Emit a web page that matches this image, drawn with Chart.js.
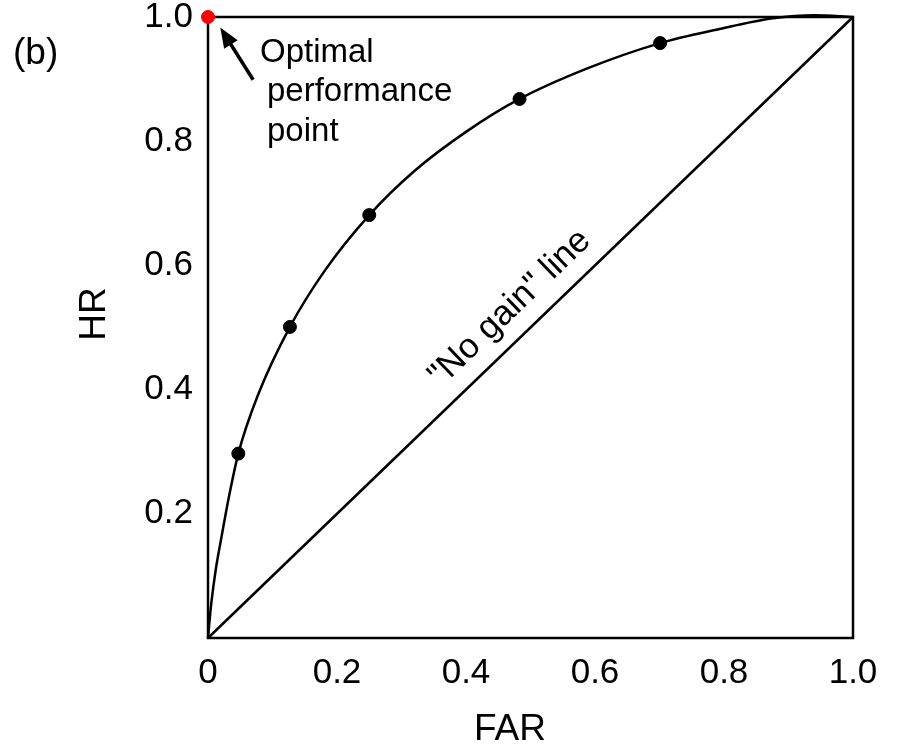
<!DOCTYPE html>
<html>
<head>
<meta charset="utf-8">
<style>
  html, body { margin: 0; padding: 0; background: #fff; }
</style>
</head>
<body>
<canvas id="rocChart" width="901" height="744"></canvas>
<script src="https://cdn.jsdelivr.net/npm/chart.js@4.4.1/dist/chart.umd.min.js"></script>
<script>
  // ROC curve (FAR on x, HR on y)
  const curveFAR = [0, 0.005, 0.012, 0.021, 0.032, 0.047, 0.077, 0.127, 0.18, 0.25, 0.32, 0.40, 0.483, 0.59, 0.701, 0.79, 0.876, 0.94, 1.0];
  const curveHR  = [0, 0.055, 0.110, 0.163, 0.225, 0.297, 0.390, 0.501, 0.59, 0.681, 0.752, 0.815, 0.868, 0.918, 0.958, 0.980, 0.998, 1.003, 1.0];
  // the black dots on the curve
  const dotFAR = [0.047, 0.127, 0.250, 0.483, 0.701];
  const dotHR  = [0.297, 0.501, 0.681, 0.868, 0.958];
  // "no gain" diagonal
  const noGainFAR = [0, 1];
  const noGainHR  = [0, 1];
  // optimal performance point (red)
  const optimalFAR = [0];
  const optimalHR  = [1];

  const xTickLabels = ['0', '0.2', '0.4', '0.6', '0.8', '1.0'];
  const yTickLabels = ['', '0.2', '0.4', '0.6', '0.8', '1.0'];

  const FONT = "'Liberation Sans', Arial, sans-serif";

  function pairs(xs, ys) {
    return xs.map((v, i) => ({ x: v, y: ys[i] }));
  }

  // frame, arrow, labels
  const extras = {
    id: 'extras',
    beforeDatasetsDraw(chart) {
      const { ctx, chartArea: a } = chart;
      ctx.save();
      ctx.strokeStyle = '#000';
      ctx.lineWidth = 2.5;
      ctx.strokeRect(a.left, a.top, a.right - a.left, a.bottom - a.top);
      ctx.restore();
    },
    afterDraw(chart) {
      const { ctx, scales: { x, y } } = chart;
      ctx.save();
      ctx.fillStyle = '#000';
      ctx.strokeStyle = '#000';
      ctx.textBaseline = 'alphabetic';

      // panel tag
      ctx.font = '37px ' + FONT;
      ctx.textAlign = 'left';
      ctx.fillText('(b)', 13, 64);

      // axis titles
      ctx.font = '37px ' + FONT;
      ctx.textAlign = 'center';
      ctx.fillText('FAR', 510, 740);
      ctx.save();
      ctx.translate(105, 314);
      ctx.rotate(-Math.PI / 2);
      ctx.fillText('HR', 0, 0);
      ctx.restore();

      // arrow to the optimal point
      const tx = x.getPixelForValue(0.019), ty = y.getPixelForValue(0.983);
      const sx = x.getPixelForValue(0.070), sy = y.getPixelForValue(0.899);
      const ang = Math.atan2(ty - sy, tx - sx);
      ctx.lineWidth = 3.5;
      ctx.beginPath();
      ctx.moveTo(sx, sy);
      ctx.lineTo(tx - 12 * Math.cos(ang), ty - 12 * Math.sin(ang));
      ctx.stroke();
      ctx.beginPath();
      ctx.moveTo(tx, ty);
      ctx.lineTo(tx - 20 * Math.cos(ang) + 8 * Math.sin(ang), ty - 20 * Math.sin(ang) - 8 * Math.cos(ang));
      ctx.lineTo(tx - 20 * Math.cos(ang) - 8 * Math.sin(ang), ty - 20 * Math.sin(ang) + 8 * Math.cos(ang));
      ctx.closePath();
      ctx.fill();

      ctx.font = '33px ' + FONT;
      ctx.textAlign = 'left';
      ctx.fillText('Optimal', 260, 62);
      ctx.fillText('performance', 267, 101);
      ctx.fillText('point', 267, 141);

      // label along the diagonal
      const p0x = x.getPixelForValue(0), p0y = y.getPixelForValue(0);
      const p1x = x.getPixelForValue(1), p1y = y.getPixelForValue(1);
      const rot = Math.atan2(p1y - p0y, p1x - p0x);
      ctx.save();
      ctx.translate(x.getPixelForValue(0.468), y.getPixelForValue(0.531));
      ctx.rotate(rot);
      ctx.font = '35px ' + FONT;
      ctx.textAlign = 'center';
      ctx.textBaseline = 'middle';
      ctx.fillText('"No gain" line', 0, 0);
      ctx.restore();

      ctx.restore();
    }
  };

  const ctx = document.getElementById('rocChart').getContext('2d');
  const rocChart = new Chart(ctx, {
    type: 'scatter',
    data: {
      datasets: [
        {
          label: 'ROC',
          type: 'line',
          data: pairs(curveFAR, curveHR),
          borderColor: '#000',
          borderWidth: 2.5,
          pointRadius: 0,
          cubicInterpolationMode: 'monotone',
          fill: false,
          clip: false,
        },
        {
          label: 'No gain',
          type: 'line',
          data: pairs(noGainFAR, noGainHR),
          borderColor: '#000',
          borderWidth: 2.5,
          pointRadius: 0,
          fill: false,
          clip: false,
        },
        {
          label: 'dots',
          data: pairs(dotFAR, dotHR),
          backgroundColor: '#000',
          borderColor: '#000',
          pointRadius: 6.5,
          clip: false,
        },
        {
          label: 'optimal',
          data: pairs(optimalFAR, optimalHR),
          backgroundColor: '#ff0000',
          borderColor: '#ff0000',
          pointRadius: 6.5,
          clip: false,
        },
      ],
    },
    options: {
      responsive: false,
      animation: false,
      layout: { padding: { top: 17, right: 48, bottom: 0, left: 0 } },
      plugins: {
        legend: { display: false },
        tooltip: { enabled: false },
      },
      scales: {
        x: {
          type: 'linear',
          min: 0,
          max: 1,
          grid: { display: false, drawTicks: false },
          border: { display: false },
          ticks: {
            stepSize: 0.2,
            padding: 14,
            color: '#000',
            font: { family: FONT, size: 35 },
            maxRotation: 0,
            callback: function (value, index) {
              return xTickLabels[index];
            },
          },
          afterFit: function (scale) {
            scale.height = 106;
            scale.paddingLeft = 0;
            scale.paddingRight = 0;
          },
        },
        y: {
          type: 'linear',
          min: 0,
          max: 1,
          grid: { display: false, drawTicks: false },
          border: { display: false },
          ticks: {
            stepSize: 0.2,
            padding: 15,
            color: '#000',
            font: { family: FONT, size: 35 },
            callback: function (value, index) {
              return yTickLabels[index];
            },
          },
          afterFit: function (scale) {
            scale.width = 208;
            scale.paddingTop = 0;
            scale.paddingBottom = 0;
          },
        },
      },
    },
    plugins: [extras],
  });
</script>
</body>
</html>
